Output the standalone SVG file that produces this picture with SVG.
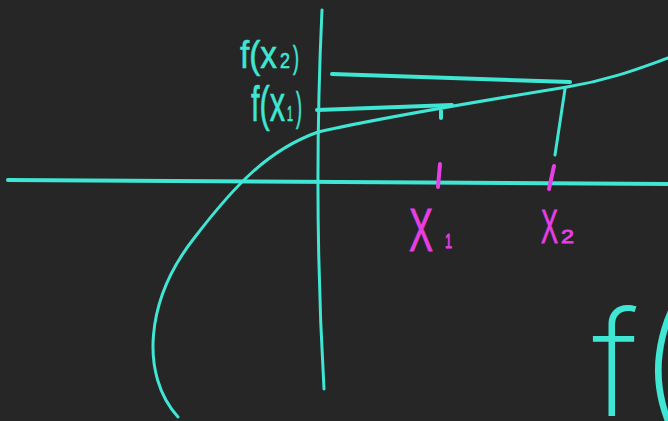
<svg xmlns="http://www.w3.org/2000/svg" width="668" height="421" viewBox="0 0 668 421">
<style>
.c{fill:none;stroke:#3fe6d3;stroke-linecap:round;stroke-linejoin:round}
.m{fill:none;stroke:#e63fe3;stroke-linecap:round}
.tc{fill:#3fe6d3;stroke:#3fe6d3;stroke-width:0.6;font-family:"Liberation Sans","DejaVu Sans",sans-serif}
.tm{fill:#e63fe3;stroke:#e63fe3;stroke-width:0.8;font-family:"Liberation Sans","DejaVu Sans",sans-serif}
.big{fill:#3fe6d3;font-family:Inter,"Open Sans","DejaVu Sans",sans-serif;font-weight:200}
</style>
<rect width="668" height="421" fill="#262626"/>
<g id="axes">
<path class="c" stroke-width="4" d="M8,180 L668,184"/>
<path class="c" stroke-width="3" d="M322,10 Q313,200 324,389"/>
</g>
<g id="curve">
<path class="c" stroke-width="3" d="M178,417 C140,375 145,300 195,237 C235,185 268,150 318,132 C380,118 450,106 567,87 C610,80 640,68 668,58"/>
</g>
<g id="connectors">
<path class="c" stroke-width="4" d="M317,110 L452,105"/>
<path class="c" stroke-width="4" d="M332,74 L570,82"/>
<path class="c" stroke-width="3" d="M565,89 L555,155"/>
<path class="c" stroke-width="4" d="M441,111 L441,118"/>
<path class="m" stroke-width="4" d="M440,164 L438,187"/>
<path class="m" stroke-width="4" d="M554,166 L549,189"/>
</g>
<g id="label-fx2">
<text class="tc" y="68" font-size="38"><tspan x="240" textLength="37" lengthAdjust="spacingAndGlyphs">f(x</tspan><tspan x="280" font-size="22" textLength="10" lengthAdjust="spacingAndGlyphs">2</tspan><tspan x="293" font-size="32" textLength="6" lengthAdjust="spacingAndGlyphs">)</tspan></text>
</g>
<g id="label-fx1">
<text class="tc" y="121" font-size="50"><tspan x="251" textLength="34" lengthAdjust="spacingAndGlyphs">f(x</tspan><tspan x="287" font-size="22" textLength="6" lengthAdjust="spacingAndGlyphs">1</tspan><tspan x="296" font-size="40" textLength="6" lengthAdjust="spacingAndGlyphs">)</tspan></text>
</g>
<g id="label-x1">
<text class="tm" y="251"><tspan x="409" font-size="62" textLength="24" lengthAdjust="spacingAndGlyphs">X</tspan><tspan x="445" y="248" font-size="20" textLength="7" lengthAdjust="spacingAndGlyphs">1</tspan></text>
</g>
<g id="label-x2">
<text class="tm" y="243"><tspan x="541" font-size="48" textLength="17" lengthAdjust="spacingAndGlyphs">X</tspan><tspan x="561" font-size="18" textLength="13" lengthAdjust="spacingAndGlyphs">2</tspan></text>
</g>
<g id="label-f">
<text class="big" x="592" y="416" font-size="146">f(</text>
</g>
</svg>
